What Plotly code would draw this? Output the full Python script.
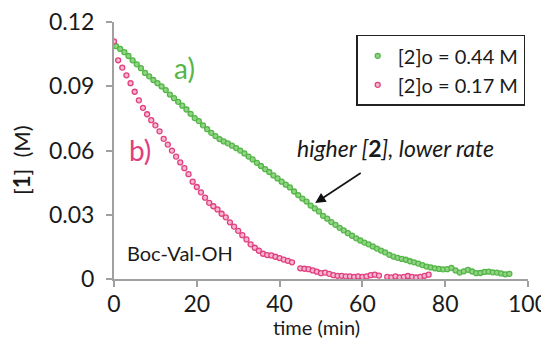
import plotly.graph_objects as go

# ---- data ----
time_a = [0.5, 1.5, 2.5, 3.5, 4.5, 5.5, 6.5, 7.5, 8.5, 9.5, 10.5, 11.5, 12.5, 13.5, 14.5, 15.5,
          16.5, 17.5, 18.5, 19.5, 20.5, 21.5, 22.5, 23.5, 24.5, 25.5, 26.5, 27.5, 28.5, 29.5,
          30.5, 31.5, 32.5, 33.5, 34.5, 35.5, 36.5, 37.5, 38.5, 39.5, 40.5, 41.5, 42.5, 43.5,
          44.5, 45.5, 46.5, 47.5, 48.5, 49.5, 50.5, 51.5, 52.5, 53.5, 54.5, 55.5, 56.5, 57.5,
          58.5, 59.5, 60.5, 61.5, 62.5, 63.5, 64.5, 65.5, 66.5, 67.5, 68.5, 69.5, 70.5, 71.5,
          72.5, 73.5, 74.5, 75.5, 76.5, 77.5, 78.5, 79.5, 80.5, 81.5, 82.5, 83.5, 84.5, 85.5,
          86.5, 87.5, 88.5, 89.5, 90.5, 91.5, 92.5, 93.5, 94.5, 95.5]
conc_a = [0.1088, 0.1075, 0.1060, 0.1042, 0.1022, 0.1003, 0.0985, 0.0963, 0.0947, 0.0930,
          0.0915, 0.0900, 0.0883, 0.0862, 0.0845, 0.0828, 0.0810, 0.0792, 0.0772, 0.0752,
          0.0738, 0.0718, 0.0700, 0.0683, 0.0668, 0.0654, 0.0643, 0.0634, 0.0623, 0.0612,
          0.0600, 0.0587, 0.0572, 0.0559, 0.0543, 0.0528, 0.0513, 0.0500, 0.0484, 0.0470,
          0.0455, 0.0441, 0.0428, 0.0409, 0.0392, 0.0376, 0.0362, 0.0343, 0.0330, 0.0316,
          0.0295, 0.0282, 0.0266, 0.0253, 0.0239, 0.0227, 0.0214, 0.0202, 0.0190, 0.0180,
          0.0170, 0.0162, 0.0152, 0.0142, 0.0133, 0.0124, 0.0113, 0.0105, 0.0099, 0.0094,
          0.0090, 0.0083, 0.0078, 0.0072, 0.0065, 0.0058, 0.0054, 0.0050, 0.0047, 0.0045,
          0.0046, 0.0052, 0.0040, 0.0030, 0.0036, 0.0043, 0.0035, 0.0027, 0.0028, 0.0033,
          0.0034, 0.0031, 0.0030, 0.0026, 0.0022, 0.0024]

time_b = [0, 1, 2, 3, 4, 5, 6, 7, 8, 9, 10, 11, 12, 13, 14, 15, 16, 17, 18, 19, 20, 21, 22,
          23, 24, 25, 26, 27, 28, 29, 30, 31, 32, 33, 34, 35, 36, 37, 38, 39, 40, 41, 42, 43,
          45, 46, 47, 48, 49, 50, 51, 52, 53, 54, 55, 56, 57, 58, 59, 60, 61, 62, 63, 64,
          66, 67, 68, 69, 70, 71, 72, 73, 74, 75, 76]
conc_b = [0.1110, 0.1022, 0.0988, 0.0952, 0.0915, 0.0875, 0.0835, 0.0800, 0.0770, 0.0742,
          0.0718, 0.0690, 0.0655, 0.0628, 0.0600, 0.0572, 0.0545, 0.0518, 0.0490, 0.0455,
          0.0430, 0.0405, 0.0380, 0.0356, 0.0340, 0.0325, 0.0305, 0.0288, 0.0265, 0.0245,
          0.0225, 0.0205, 0.0185, 0.0162, 0.0146, 0.0132, 0.0118, 0.0112, 0.0110, 0.0104,
          0.0098, 0.0091, 0.0085, 0.0078, 0.0050, 0.0048, 0.0046, 0.0040, 0.0034, 0.0027,
          0.0030, 0.0024, 0.0018, 0.0015, 0.0015, 0.0012, 0.0012, 0.0010, 0.0012, 0.0010,
          0.0012, 0.0018, 0.0020, 0.0016, 0.0010, 0.0008, 0.0012, 0.0008, 0.0010, 0.0014,
          0.0010, 0.0007, 0.0010, 0.0015, 0.0020]

series_names = ["[2]o = 0.44 M", "[2]o = 0.17 M"]
x_ticks = [0, 20, 40, 60, 80, 100]
y_ticks = [0, 0.03, 0.06, 0.09, 0.12]
y_tick_labels = ["0", "0.03", "0.06", "0.09", "0.12"]
x_title = "time (min)"
y_title = "[<b>1</b>]  (M)"

FONT = "Lato, 'Open Sans', sans-serif"
TXT = "#1a1a1a"
GREEN = "#55b548"
GREEN_FILL = "#8fd483"
PINK = "#e0407f"
PINK_FILL = "#f7b6d0"

fig = go.Figure()
fig.add_trace(go.Scatter(
    x=time_a, y=conc_a, mode="markers", name=series_names[0],
    marker=dict(size=5, color=GREEN_FILL, line=dict(color=GREEN, width=1.3)),
))
fig.add_trace(go.Scatter(
    x=time_b, y=conc_b, mode="markers", name=series_names[1],
    marker=dict(size=5, color=PINK_FILL, line=dict(color=PINK, width=1.3)),
))

axis_common = dict(
    showgrid=False, zeroline=False, showline=True, linecolor="#a0a0a0", linewidth=2,
    ticks="outside", ticklen=6, tickwidth=2, tickcolor="#a0a0a0",
    tickfont=dict(family=FONT, size=23, color=TXT), automargin=False,
    ticklabeloverflow="allow",
)

# the page body adds an 8 px offset, so margins are reduced on the left/top accordingly
fig.update_layout(
    width=549, height=348,
    margin=dict(l=106, r=29, t=14, b=77),
    paper_bgcolor="white", plot_bgcolor="white",
    font=dict(family=FONT, color=TXT),
    xaxis=dict(range=[0, 100], tickvals=x_ticks, ticklabelstandoff=-3, **axis_common),
    yaxis=dict(range=[0, 0.1201], tickvals=y_ticks, ticktext=y_tick_labels,
               ticklabelstandoff=7, **axis_common),
    legend=dict(x=0.585, y=0.95, xanchor="left", yanchor="top",
                bordercolor="#222", borderwidth=1.5, bgcolor="white",
                font=dict(family=FONT, size=20, color=TXT),
                itemwidth=30, tracegroupgap=0),
    showlegend=True,
)

# axis titles
fig.add_annotation(xref="paper", yref="paper", x=0.488, y=-0.187, text=x_title,
                   showarrow=False, font=dict(family=FONT, size=20, color=TXT),
                   xanchor="center", yanchor="middle")
fig.add_annotation(xref="paper", yref="paper", x=-0.2246, y=0.463, text=y_title,
                   textangle=-90, showarrow=False, font=dict(family=FONT, size=22, color=TXT),
                   xanchor="center", yanchor="middle")

fig.add_annotation(x=17.1, y=0.0985, text="a)", showarrow=False,
                   font=dict(family=FONT, size=28, color=GREEN), xanchor="center", yanchor="middle")
fig.add_annotation(x=6.3, y=0.0602, text="b)", showarrow=False,
                   font=dict(family=FONT, size=28, color=PINK), xanchor="center", yanchor="middle")
fig.add_annotation(x=16.0, y=0.0121, text="Boc-Val-OH", showarrow=False,
                   font=dict(family=FONT, size=20, color=TXT), xanchor="center", yanchor="middle")
fig.add_annotation(x=68.1, y=0.0612, text="<i>higher [</i><b>2</b><i>], lower rate</i>",
                   showarrow=False, font=dict(family=FONT, size=23, color=TXT),
                   xanchor="center", yanchor="middle")
fig.add_annotation(x=48.6, y=0.0355, ax=47, ay=-31, text="", showarrow=True,
                   arrowhead=2, arrowsize=1.3, arrowwidth=1.6, arrowcolor="#111",
                   axref="pixel", ayref="pixel")

fig.write_html("out.html")
